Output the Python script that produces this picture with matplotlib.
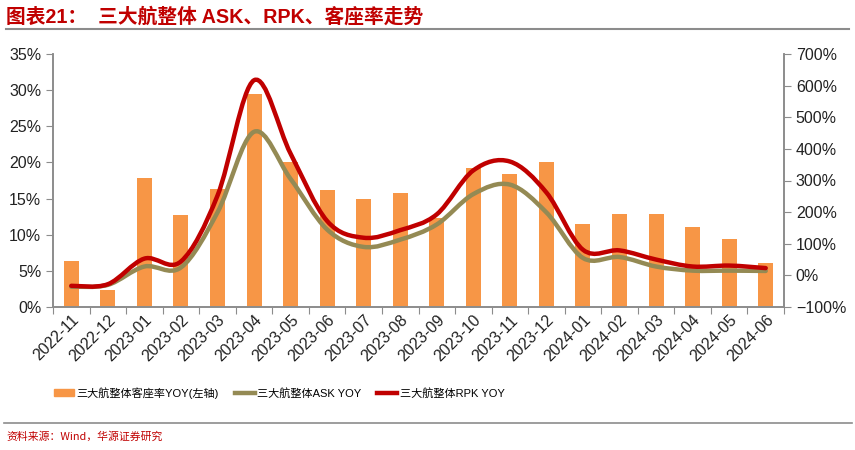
import matplotlib
matplotlib.use('Agg')
import matplotlib.pyplot as plt
from matplotlib.path import Path
from matplotlib.patches import PathPatch
from matplotlib.lines import Line2D
from matplotlib.ticker import FuncFormatter
import numpy as np

plt.rcParams['font.family'] = ['Liberation Sans', 'Noto Sans CJK SC', 'DejaVu Sans']

months = ['2022-11', '2022-12', '2023-01', '2023-02', '2023-03', '2023-04', '2023-05',
          '2023-06', '2023-07', '2023-08', '2023-09', '2023-10', '2023-11', '2023-12',
          '2024-01', '2024-02', '2024-03', '2024-04', '2024-05', '2024-06']
# 客座率 YOY (左轴, %)
zkl_yoy = [6.3, 2.4, 17.8, 12.7, 16.3, 29.5, 20.0, 16.2, 14.9, 15.8,
           12.3, 19.2, 18.4, 20.0, 11.5, 12.8, 12.8, 11.0, 9.4, 6.1]
# ASK YOY (右轴, %)
ask_yoy = [-36, -30, 28, 25, 199, 454, 305, 145, 90, 113,
           161, 257, 287, 199, 55, 58, 28, 15, 15, 14]
# RPK YOY (右轴, %)
rpk_yoy = [-33, -28, 53, 44, 252, 617, 385, 172, 119, 143,
           193, 332, 360, 262, 81, 79, 50, 28, 31, 23]

orange = '#F79646'
olive = '#948A54'
red = '#C00000'
grau = '#8C8C8C'


def glatteKurve(ax, x, y, farbe, lw):
    # Excel-artige Glättung: Catmull-Rom als Bezier
    p = np.column_stack([x, y]).astype(float)
    n = len(p)
    verts = [p[0]]
    codes = [Path.MOVETO]
    for i in range(n - 1):
        p0 = p[i - 1] if i > 0 else p[i]
        p3 = p[i + 2] if i + 2 < n else p[i + 1]
        c1 = p[i] + (p[i + 1] - p0) / 6
        c2 = p[i + 1] - (p3 - p[i]) / 6
        verts += [c1, c2, p[i + 1]]
        codes += [Path.CURVE4] * 3
    patch = PathPatch(Path(verts, codes), facecolor='none', edgecolor=farbe, lw=lw,
                      capstyle='round', joinstyle='round', zorder=3)
    ax.add_patch(patch)


fig = plt.figure(figsize=(8.55, 4.5), dpi=100)
ax = fig.add_axes([53/855, 1-307/450, (784-53)/855, (307-54)/450])
ax2 = ax.twinx()

x = np.arange(len(months))
ax.bar(x, zkl_yoy, width=0.41, color=orange, zorder=2)
ax.set_xlim(-0.5, len(months) - 0.5)
ax.set_ylim(0, 35)
ax.set_yticks(np.arange(0, 36, 5))
ax.yaxis.set_major_formatter(FuncFormatter(lambda v, _: f'{v:.0f}%'))

glatteKurve(ax2, x, ask_yoy, olive, 3.2)
glatteKurve(ax2, x, rpk_yoy, red, 3.2)
ax2.set_ylim(-100, 700)
ax2.set_yticks(np.arange(-100, 701, 100))
ax2.yaxis.set_major_formatter(FuncFormatter(lambda v, _: f'{v:.0f}%'.replace('-', '−')))

ax.set_xticks(np.arange(-0.5, len(months), 1), minor=False)
ax.set_xticklabels([])
ax.set_xticks(x, minor=True)
ax.set_xticklabels(months, minor=True, rotation=45, ha='right', va='top',
                   rotation_mode='anchor', fontsize=11.5, color='#222222')
ax.tick_params(axis='x', which='minor', length=0, pad=4)
ax.tick_params(axis='x', which='major', length=5, color=grau, direction='out')
ax.tick_params(axis='y', length=5, color=grau, labelsize=11.5, labelcolor='#222222')
ax2.tick_params(axis='y', length=5, color=grau, labelsize=11.5, labelcolor='#222222')

for a in (ax, ax2):
    a.spines['top'].set_visible(False)
    for s in ('left', 'right', 'bottom'):
        a.spines[s].set_color(grau)
        a.spines[s].set_linewidth(1.2)

handles = [plt.Rectangle((0, 0), 1, 1, color=orange),
           Line2D([], [], color=olive, lw=3.2),
           Line2D([], [], color=red, lw=3.2)]
labels = ['三大航整体客座率YOY(左轴)', '三大航整体ASK YOY', '三大航整体RPK YOY']
fig.legend(handles, labels, loc='center left', bbox_to_anchor=(44/855, 1-393/450), ncol=3,
           frameon=False, handlelength=1.8, handleheight=0.6,
           handletextpad=0.25, columnspacing=1.4,
           prop={'family': ['Liberation Sans', 'Noto Sans CJK SC'], 'size': 8})

fig.text(6/855, 1-17/450, '图表21：  三大航整体 ASK、RPK、客座率走势', color=red,
         fontsize=14.2, fontweight='bold', va='center', ha='left',
         family=['Liberation Sans', 'Noto Sans CJK SC'])
fig.add_artist(Line2D([6/855, 849/855], [1-29/450, 1-29/450], color=grau, lw=1.5))
fig.add_artist(Line2D([4/855, 852/855], [1-423/450, 1-423/450], color=grau, lw=1.2))
fig.text(6/855, 1-437/450, '资料来源：Wind，华源证券研究', color=red, fontsize=7.8,
         style='italic', va='center', ha='left', family=['Noto Sans CJK SC', 'DejaVu Sans'])

fig.savefig('out.png', dpi=100)
